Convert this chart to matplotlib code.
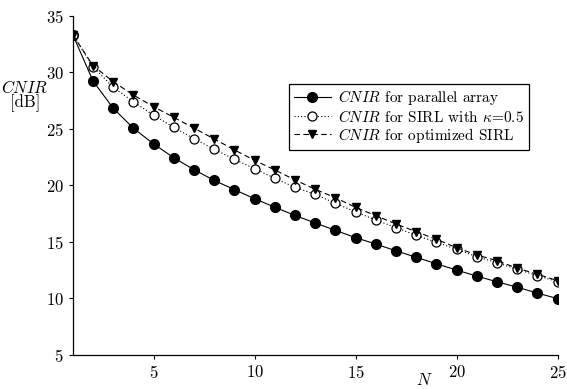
"""
CNIR versus number of elements N for the parallel array,
the SIRL with fixed kappa and the optimized SIRL.
"""
import matplotlib
matplotlib.use("Agg")
import matplotlib.pyplot as plt

matplotlib.rcParams["font.family"] = "serif"
matplotlib.rcParams["font.serif"] = ["cmr10"]
matplotlib.rcParams["mathtext.fontset"] = "cm"
matplotlib.rcParams["axes.formatter.use_mathtext"] = True

N = list(range(1, 26))
cnir_parallel = [33.32, 29.22, 26.81, 25.04, 23.65, 22.43, 21.37, 20.42, 19.61,
                 18.80, 18.05, 17.32, 16.66, 16.00, 15.36, 14.79, 14.19, 13.62,
                 13.04, 12.49, 11.95, 11.45, 10.97, 10.45, 9.96]
cnir_sirl = [33.32, 30.49, 28.66, 27.39, 26.19, 25.12, 24.12, 23.18, 22.29,
             21.46, 20.61, 19.81, 19.19, 18.40, 17.63, 16.92, 16.24, 15.57,
             14.95, 14.33, 13.67, 13.14, 12.56, 11.99, 11.46]
cnir_opt = [33.32, 30.58, 29.16, 27.98, 26.95, 26.00, 25.05, 24.09, 23.12,
            22.20, 21.35, 20.46, 19.64, 18.89, 18.04, 17.30, 16.57, 15.88,
            15.21, 14.47, 13.82, 13.32, 12.65, 12.12, 11.55]
xticks = [5, 10, 15, 20, 25]
yticks = [5, 10, 15, 20, 25, 30, 35]

fig = plt.figure(figsize=(5.67, 3.89), dpi=100)
ax = fig.add_axes([0.1284, 0.0882, 0.8552, 0.8714])

ax.plot(N, cnir_parallel, color="k", lw=0.8, marker="o", ms=7,
        mfc="k", mec="k", label=r"$CNIR$ for parallel array")
ax.plot(N, cnir_sirl, color="k", lw=0.8, ls=(0, (1, 2)), marker="o", ms=6.5,
        mfc="w", mec="k", mew=0.9,
        label=r"$CNIR$ for SIRL with $\kappa$=0.5")
ax.plot(N, cnir_opt, color="k", lw=0.8, ls=(0, (5, 3)), marker="v", ms=6.2,
        mfc="k", mec="k", label=r"$CNIR$ for optimized SIRL")

ax.set_xlim(1, 25)
ax.set_ylim(5, 35)
ax.set_xticks(xticks)
ax.set_yticks(yticks)
ax.tick_params(direction="out", length=3, width=0.8, labelsize=12,
               top=False, right=False)
for side in ("top", "right"):
    ax.spines[side].set_visible(False)
for side in ("left", "bottom"):
    ax.spines[side].set_linewidth(0.9)

# y label sits horizontally, left of the axis, in two tight lines
ax.text(-0.0986, 0.789, "$CNIR$", transform=ax.transAxes,
        ha="center", va="center", fontsize=12)
ax.text(-0.0986, 0.743, "[dB]", transform=ax.transAxes,
        ha="center", va="center", fontsize=12)
ax.text(0.724, -0.075, "$N$", transform=ax.transAxes,
        ha="center", va="center", fontsize=12)

leg = ax.legend(loc="upper left", bbox_to_anchor=(0.446, 0.80),
                borderaxespad=0, fontsize=11, fancybox=False,
                framealpha=1, edgecolor="k", handlelength=2.4,
                handletextpad=0.5, labelspacing=0.08, borderpad=0.32)
leg.get_frame().set_linewidth(0.9)

fig.savefig("out.png", dpi=100)
